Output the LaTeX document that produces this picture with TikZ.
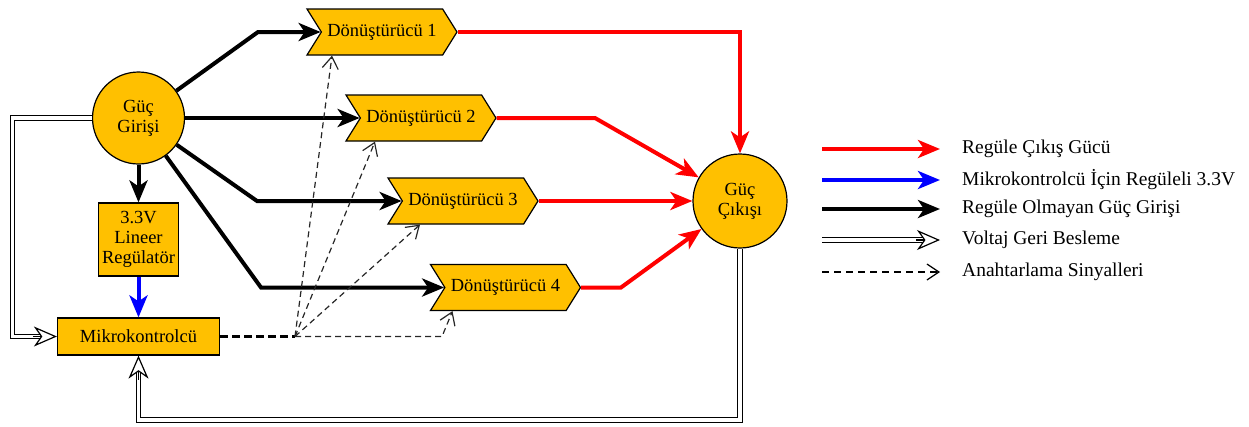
\documentclass[tikz,border=0pt]{standalone}
\usepackage{fontspec}
\setmainfont{Liberation Serif}
\usetikzlibrary{shapes.symbols,arrows.meta,calc}
\definecolor{gold}{RGB}{255,192,0}
\definecolor{pred}{RGB}{255,0,0}
\definecolor{pblue}{RGB}{0,0,255}
\begin{document}
\begin{tikzpicture}[x=1pt,y=-1pt,
  box/.style={draw=black,line width=1.2pt,fill=gold,inner sep=0pt,align=center,font=\fontsize{18.5}{20}\selectfont},
  conv/.style={box,signal,signal to=east,signal from=west,signal pointer angle=116,minimum width=150pt,minimum height=46pt},
  rnd/.style={box,circle},
  pwr/.style={line width=4pt,line join=miter,-{Stealth[length=22pt,width=18pt,inset=6pt]}},
  fbk/.style={draw=black,line width=1.2pt,double=white,double distance=3.5pt},
  fbtip/.style={draw=black,line width=1.2pt,-{Stealth[length=23pt,width=20pt,inset=7pt,fill=white]}},
  sig/.style={draw=black!85,line width=1.2pt,dash pattern=on 6pt off 4pt,-{Straight Barb[length=12pt,width=16pt]}},
  sigm/.style={draw=black,line width=2.2pt,dash pattern=on 8pt off 4pt},
  leg/.style={anchor=west,inner sep=0pt,font=\fontsize{19.5}{22}\selectfont}
]
\useasboundingbox (0,0) rectangle (1249,426);

% nodes
\node[rnd,minimum size=92pt] (gi) at (138.5,118) {Güç\\Girişi};
\node[rnd,minimum size=94pt] (go) at (740,201) {Güç\\Çıkışı};
\node[box,minimum width=80pt,minimum height=73pt] (reg) at (138.5,239.5) {3.3V\\Lineer\\Regülatör};
\node[box,minimum width=162pt,minimum height=37pt] (mk) at (138.5,336.5) {Mikrokontrolcü};
\node[conv] (d1) at (382,32) {Dönüştürücü 1};
\node[conv] (d2) at (421,118) {Dönüştürücü 2};
\node[conv] (d3) at (463,201) {Dönüştürücü 3};
\node[conv] (d4) at (505.5,287.5) {Dönüştürücü 4};

% bend points
\coordinate (c1) at (258,32);
\coordinate (c3) at (257,201);
\coordinate (c4) at (261,287.5);
\coordinate (r2) at (595,118);
\coordinate (r4) at (621,287.5);
\coordinate (jn) at (295,336.5);
\coordinate (j4) at (442,336.5);
\coordinate (f1) at (12.5,118);
\coordinate (f2) at (740,420);

% unregulated input power
\draw[pwr] (gi) -- (c1) -- (d1.west);
\draw[pwr] (gi) -- (d2.west);
\draw[pwr] (gi) -- (c3) -- (d3.west);
\draw[pwr] (gi) -- (c4) -- (d4.west);
\draw[pwr] (gi) -- (reg);

% regulated output power
\draw[pwr,draw=pred] (d1.east) -| (go.north);
\draw[pwr,draw=pred] (d2.east) -- (r2) -- (go);
\draw[pwr,draw=pred] (d3.east) -- (go);
\draw[pwr,draw=pred] (d4.east) -- (r4) -- (go);

% 3.3V
\draw[pwr,draw=pblue] (reg) -- (mk);

% voltage feedback
\draw[fbk] (gi.west) -- (f1) |- ([xshift=-17pt]mk.west);
\draw[fbtip] ([xshift=-24pt]mk.west) -- (mk.west);
\draw[fbk] (go.south) -- (f2) -| ([yshift=-17pt]mk.south);
\draw[fbtip] ([yshift=-24pt]mk.south) -- (mk.south);

% switching signals
\draw[sigm] (mk.east) -- (jn);
\draw[sig] (jn) -- ([xshift=-50pt]d1.south);
\draw[sig] (jn) -- ([xshift=-46pt]d2.south);
\draw[sig] (jn) -- ([xshift=-43pt]d3.south);
\draw[sig] (jn) -- (j4) -- ([xshift=-53pt]d4.south);

% legend
\coordinate (la1) at (822,149); \coordinate (lb1) at (940,149);
\coordinate (la2) at (822,180); \coordinate (lb2) at (940,180);
\coordinate (la3) at (822,209); \coordinate (lb3) at (940,209);
\coordinate (la4) at (822,240); \coordinate (lb4) at (940,240);
\coordinate (la5) at (822,272); \coordinate (lb5) at (940,272);
\draw[pwr,draw=pred] (la1) -- (lb1);
\draw[pwr,draw=pblue] (la2) -- (lb2);
\draw[pwr] (la3) -- (lb3);
\draw[fbk] (la4) -- ([xshift=-17pt]lb4);
\draw[fbtip] ([xshift=-24pt]lb4) -- (lb4);
\draw[sig,draw=black,dash pattern=on 7pt off 5pt] (la5) -- (lb5);
\node[leg] (t1) at (962,149) {Regüle Çıkış Gücü};
\node[leg] (t2) at (962,180) {Mikrokontrolcü İçin Regüleli 3.3V};
\node[leg] (t3) at (962,209) {Regüle Olmayan Güç Girişi};
\node[leg] (t4) at (962,240) {Voltaj Geri Besleme};
\node[leg] (t5) at (962,272) {Anahtarlama Sinyalleri};
\end{tikzpicture}
\end{document}
